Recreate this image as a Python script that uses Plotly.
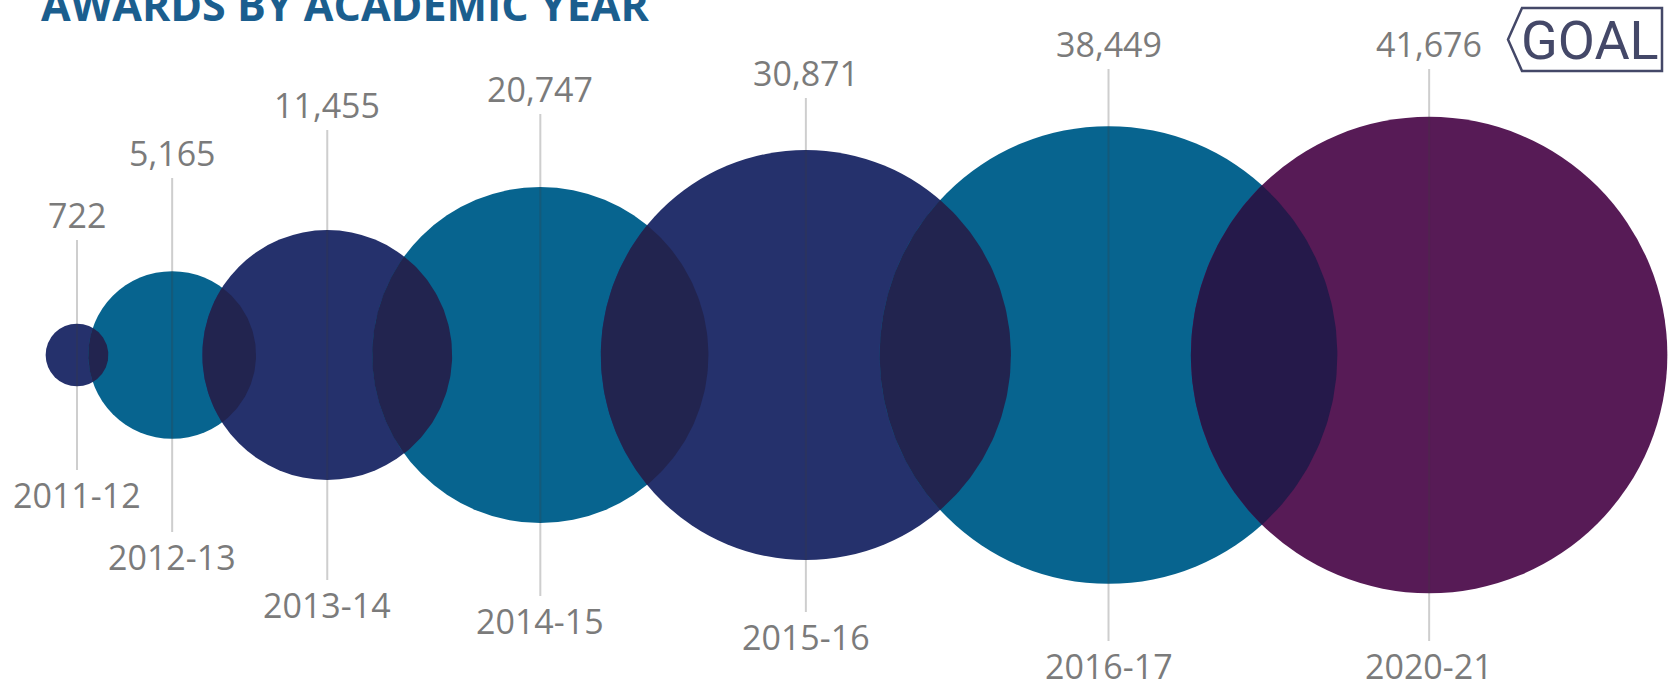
import math
import plotly.graph_objects as go

# ---------------- data ----------------
years = ["2011-12", "2012-13", "2013-14", "2014-15", "2015-16", "2016-17", "2020-21"]
awards = [722, 5165, 11455, 20747, 30871, 38449, 41676]
goal_flags = [False, False, False, False, False, False, True]
title_text = "AWARDS BY ACADEMIC YEAR"
goal_text = "GOAL"

# ---------------- layout constants ----------------
W, H = 1668, 689
CY = 355            # vertical centre line of the bubbles (px)
FIRST_X = 77        # centre of first bubble (px)
K = 1.167           # bubble radius in px per sqrt(award)
OVERLAP = 0.64      # overlap of consecutive bubbles, fraction of the previous radius
label_offsets = [140, 202, 250, 266, 282, 311, 311]  # label distance from centre line (px)
LINE_GAP = 25

NAVY = "#25316c"
TEAL = "#07648f"
PURPLE = "#571b56"
LENS = "#22244f"
LENS_GOAL = "#25194a"
LABEL_GREY = "#7b7b7b"
TITLE_BLUE = "#1b5e8e"
GOAL_INK = "#444868"

radii = [K * math.sqrt(v) for v in awards]
xs = [FIRST_X]
for i in range(1, len(awards)):
    xs.append(xs[-1] + radii[i - 1] * (1 - OVERLAP) + radii[i])

colors = []
for i, g in enumerate(goal_flags):
    colors.append(PURPLE if g else (NAVY if i % 2 == 0 else TEAL))

fig = go.Figure()

# bubbles
fig.add_trace(go.Scatter(
    x=xs, y=[CY] * len(awards), mode="markers",
    marker=dict(size=awards, sizemode="area", sizeref=1 / (2 * K * K),
                color=colors, opacity=1, line=dict(width=0)),
    hoverinfo="skip", showlegend=False,
))

# overlap lenses
for i in range(len(awards) - 1):
    r1, r2 = radii[i], radii[i + 1]
    d = xs[i + 1] - xs[i]
    a = (r1 * r1 - r2 * r2 + d * d) / (2 * d)
    h = math.sqrt(max(r1 * r1 - a * a, 0))
    t1 = math.atan2(h, a)
    t2 = math.atan2(h, d - a)
    px, py = [], []
    n = 80
    for k in range(n + 1):
        t = -t1 + 2 * t1 * k / n
        px.append(xs[i] + r1 * math.cos(t))
        py.append(CY + r1 * math.sin(t))
    for k in range(n + 1):
        t = math.pi - t2 + 2 * t2 * k / n
        px.append(xs[i + 1] + r2 * math.cos(t))
        py.append(CY + r2 * math.sin(t))
    lc = LENS_GOAL if goal_flags[i + 1] else LENS
    fig.add_trace(go.Scatter(
        x=px, y=py, mode="lines", fill="toself", fillcolor=lc,
        line=dict(width=0, color=lc), hoverinfo="skip", showlegend=False,
    ))

# leader lines
lx, ly = [], []
for x, off in zip(xs, label_offsets):
    lx += [x, x, None]
    ly += [CY - off + LINE_GAP, CY + off - LINE_GAP, None]
fig.add_trace(go.Scatter(
    x=lx, y=ly, mode="lines", line=dict(color="rgba(60,60,60,0.25)", width=2),
    hoverinfo="skip", showlegend=False,
))

annotations = []
for x, off, v, yr in zip(xs, label_offsets, awards, years):
    annotations.append(dict(x=x, y=CY - off, text=f"{v:,}", showarrow=False,
                            xanchor="center", yanchor="middle",
                            font=dict(family="Open Sans", size=34, color=LABEL_GREY)))
    annotations.append(dict(x=x, y=CY + off, text=yr, showarrow=False,
                            xanchor="center", yanchor="middle",
                            font=dict(family="Open Sans", size=34, color=LABEL_GREY)))

# title (clipped at top like the reference)
annotations.append(dict(x=39, y=4, text=title_text, showarrow=False,
                        xanchor="left", yanchor="middle",
                        font=dict(family="Open Sans", size=43, color=TITLE_BLUE, weight=700)))

# goal tag
annotations.append(dict(x=1590, y=40, text=goal_text, showarrow=False,
                        xanchor="center", yanchor="middle",
                        font=dict(family="Liberation Sans Narrow, Roboto, Open Sans", size=54, color=GOAL_INK)))

shapes = [dict(type="path", xref="x", yref="y",
               path="M 1522 8 L 1662 8 L 1662 71 L 1522 71 L 1508 39.5 Z",
               line=dict(color=GOAL_INK, width=2.5), fillcolor="rgba(0,0,0,0)", layer="above")]

fig.update_layout(
    width=W, height=H, margin=dict(l=0, r=0, t=0, b=0, pad=0),
    paper_bgcolor="white", plot_bgcolor="white",
    xaxis=dict(range=[0, W], visible=False, fixedrange=True),
    yaxis=dict(range=[H, 0], visible=False, fixedrange=True),
    annotations=annotations, shapes=shapes, showlegend=False,
)

fig.write_html("out.html", config={"displayModeBar": False},
               post_script="document.body.style.margin='0';document.body.style.overflow='hidden';")
